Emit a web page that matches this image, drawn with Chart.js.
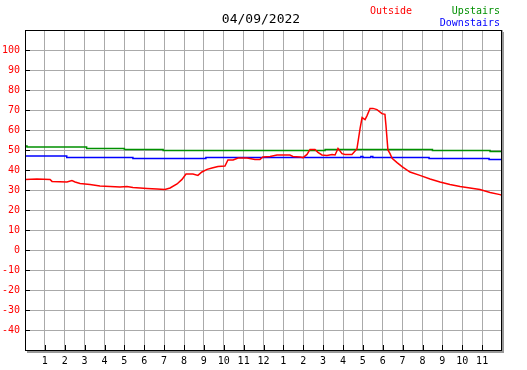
<!DOCTYPE html>
<html>
<head>
<meta charset="utf-8">
<script src="https://cdn.jsdelivr.net/npm/chart.js@4/dist/chart.umd.min.js"></script>
<style>
  html, body { margin: 0; padding: 0; background: #fff; }
  #wrap { width: 527px; height: 370px; }
</style>
</head>
<body>
<div id="wrap"><canvas id="tempChart" width="527" height="370"></canvas></div>
<script>
const chartTitle = '04/09/2022';

// hour of day (0-24) and temperature readings
const outsideHours = [0, 0.6, 1.26, 1.36, 2.11, 2.36, 2.52, 2.77, 3.27, 3.77, 4.28, 4.78, 5.13, 5.43, 5.79, 6.14, 6.64, 7.04, 7.3, 7.65, 7.9, 8.1, 8.45, 8.7, 8.9, 9.16, 9.41, 9.71, 10.06, 10.21, 10.47, 10.72, 11.17, 11.57, 11.82, 11.97, 12.33, 12.68, 13.33, 13.48, 13.84, 13.99, 14.19, 14.34, 14.59, 14.74, 14.94, 15.19, 15.45, 15.6, 15.75, 15.95, 16.1, 16.45, 16.7, 16.86, 16.96, 17.11, 17.21, 17.36, 17.51, 17.71, 17.96, 18.11, 18.16, 18.26, 18.36, 18.47, 18.72, 18.97, 19.37, 19.87, 20.38, 20.88, 21.38, 21.89, 22.39, 22.89, 23.4, 23.9, 24];
const outsideTemps = [35.3, 35.5, 35.3, 34.3, 34.0, 34.7, 34.0, 33.3, 32.7, 32.0, 31.7, 31.5, 31.8, 31.2, 31.0, 30.8, 30.5, 30.3, 31.0, 33.0, 35.3, 38.0, 38.0, 37.3, 39.0, 40.3, 41.0, 41.7, 42.0, 45.0, 45.0, 46.0, 46.0, 45.3, 45.3, 46.5, 46.8, 47.5, 47.5, 46.8, 46.5, 46.2, 47.8, 50.3, 50.3, 48.8, 47.5, 47.2, 47.8, 47.5, 50.8, 48.2, 47.8, 47.8, 50.5, 60.8, 66.2, 65.2, 67.2, 70.8, 70.8, 70.2, 68.2, 67.8, 62.5, 50.0, 48.3, 45.8, 43.7, 41.7, 39.0, 37.3, 35.5, 34.0, 32.7, 31.7, 31.0, 30.2, 28.8, 27.7, 27.3];

// step changes: each value holds from its hour until the next one
const upstairsHours = [0, 0.1, 3.1, 5.0, 6.95, 15.1, 20.5, 23.4, 24];
const upstairsTemps = [52.0, 51.5, 50.8, 50.3, 49.8, 50.3, 49.8, 49.3, 49.3];

const downstairsHours = [0, 2.1, 5.43, 9.1, 16.9, 17.0, 17.4, 17.5, 20.33, 23.35, 24];
const downstairsTemps = [47.0, 46.3, 45.7, 46.3, 46.8, 46.3, 46.8, 46.3, 45.7, 45.3, 45.3];

const seriesNames = ['Outside', 'Upstairs', 'Downstairs'];
const seriesColors = ['#ff0000', '#009000', '#0000ff'];

const yTicks = [-40, -30, -20, -10, 0, 10, 20, 30, 40, 50, 60, 70, 80, 90, 100];

function toPoints(hours, temps) {
  return hours.map((h, i) => ({ x: h, y: temps[i] }));
}

const MONO = '"DejaVu Sans Mono", "Liberation Mono", monospace';

// frame, inward tick marks, title and legend
const decorPlugin = {
  id: 'decor',
  afterDraw(chart) {
    const ctx = chart.ctx;
    const a = chart.chartArea;
    const xs = chart.scales.x, ys = chart.scales.y;
    ctx.save();

    // shadow
    ctx.fillStyle = '#999';
    ctx.fillRect(a.right, a.top + 2, 2, a.bottom - a.top + 1);
    ctx.fillRect(a.left + 2, a.bottom + 1, a.right - a.left, 2);

    // frame
    ctx.strokeStyle = '#000';
    ctx.lineWidth = 1;
    ctx.strokeRect(a.left + 0.5, a.top + 0.5, a.right - a.left - 1, a.bottom - a.top);

    // inward ticks
    ctx.beginPath();
    yTicks.forEach(v => {
      const py = Math.round(ys.getPixelForValue(v)) + 0.5;
      ctx.moveTo(a.left, py);
      ctx.lineTo(a.left + 5, py);
    });
    for (let h = 1; h < 24; h++) {
      const px = Math.round(xs.getPixelForValue(h)) + 0.5;
      ctx.moveTo(px, a.bottom);
      ctx.lineTo(px, a.bottom - 5);
    }
    ctx.stroke();

    // title
    ctx.fillStyle = '#000';
    ctx.font = '13px ' + MONO;
    ctx.textAlign = 'center';
    ctx.textBaseline = 'middle';
    ctx.fillText(chartTitle, 261, 20);

    // legend
    ctx.font = '10px ' + MONO;
    ctx.textAlign = 'left';
    ctx.fillStyle = seriesColors[0];
    ctx.fillText(seriesNames[0], 370, 11);
    ctx.textAlign = 'right';
    ctx.fillStyle = seriesColors[1];
    ctx.fillText(seriesNames[1], 500, 11);
    ctx.fillStyle = seriesColors[2];
    ctx.fillText(seriesNames[2], 500, 23);

    ctx.restore();
  }
};

const ctx = document.getElementById('tempChart').getContext('2d');
new Chart(ctx, {
  type: 'line',
  data: {
    datasets: [
      {
        label: seriesNames[0],
        data: toPoints(outsideHours, outsideTemps),
        borderColor: seriesColors[0],
        borderWidth: 1.5,
        pointRadius: 0,
        tension: 0
      },
      {
        label: seriesNames[1],
        data: toPoints(upstairsHours, upstairsTemps),
        borderColor: seriesColors[1],
        borderWidth: 1.5,
        pointRadius: 0,
        stepped: 'before'
      },
      {
        label: seriesNames[2],
        data: toPoints(downstairsHours, downstairsTemps),
        borderColor: seriesColors[2],
        borderWidth: 1.5,
        pointRadius: 0,
        stepped: 'before'
      }
    ]
  },
  options: {
    responsive: false,
    animation: false,
    events: [],
    layout: { padding: { top: 30, right: 25, left: 0, bottom: 0 } },
    plugins: {
      legend: { display: false },
      title: { display: false },
      tooltip: { enabled: false }
    },
    scales: {
      x: {
        type: 'linear',
        min: 0,
        max: 24,
        afterFit: s => { s.height = 20; },
        border: { display: false },
        grid: { color: '#aaaaaa', lineWidth: 1, drawTicks: false },
        ticks: {
          stepSize: 1,
          autoSkip: false,
          maxRotation: 0,
          padding: 5,
          color: '#000',
          font: { family: MONO, size: 10 },
          callback: v => (v <= 0 || v >= 24) ? '' : String((v - 1) % 12 + 1)
        }
      },
      y: {
        type: 'linear',
        min: -50,
        max: 110,
        afterFit: s => { s.width = 25; },
        border: { display: false },
        grid: { color: '#aaaaaa', lineWidth: 1, drawTicks: false },
        ticks: {
          stepSize: 10,
          padding: 5,
          color: '#ff0000',
          font: { family: MONO, size: 10 },
          callback: v => yTicks.includes(v) ? String(v) : ''
        }
      }
    }
  },
  plugins: [decorPlugin]
});
</script>
</body>
</html>
